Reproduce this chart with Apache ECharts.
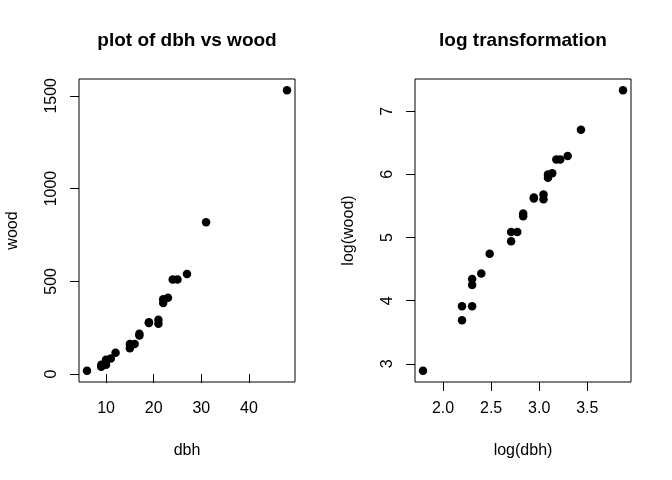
<!DOCTYPE html>
<html>
<head>
<meta charset="utf-8">
<script src="https://cdn.jsdelivr.net/npm/echarts@6/dist/echarts.min.js"></script>
<style>
html,body{margin:0;padding:0;background:#fff;}
#c{width:672px;height:480px;}
</style>
</head>
<body>
<div id="c"></div>
<script>
const dbh  = [6, 9, 9, 10, 10, 10, 11, 12, 15, 15, 16, 17, 17, 19, 19, 21, 21, 22, 22, 23, 24, 25, 27, 31, 48];
const wood = [18, 40, 50, 50, 70, 77, 84, 115, 140, 162, 162, 208, 217, 275, 280, 272, 293, 383, 403, 411, 510, 510, 539, 819, 1530];
const xTicksLeft = [10, 20, 30, 40];
const yTicksLeft = [0, 500, 1000, 1500];
const xTicksRight = [2.0, 2.5, 3.0, 3.5];
const yTicksRight = [3, 4, 5, 6, 7];
const titles = ['plot of dbh vs wood', 'log transformation'];
const xNames = ['dbh', 'log(dbh)'];
const yNames = ['wood', 'log(wood)'];

const rawPts = dbh.map((d, i) => [d, wood[i]]);
const logPts = dbh.map((d, i) => [Math.log(d), Math.log(wood[i])]);

const FONT = '"Liberation Sans", Arial, Helvetica, sans-serif';
const pad = v => v.min - 0.04 * (v.max - v.min);
const padMax = v => v.max + 0.04 * (v.max - v.min);

function xAxis(idx, ticks, name, fmt) {
  return {
    type: 'value', gridIndex: idx, min: pad, max: padMax,
    name: name, nameLocation: 'middle', nameGap: 61,
    nameTextStyle: {fontFamily: FONT, fontSize: 16, color: '#000'},
    axisLine: {show: false},
    splitLine: {show: false},
    axisTick: {show: true, inside: false, length: 9, customValues: ticks, lineStyle: {color: '#000'}},
    axisLabel: {customValues: ticks, margin: 19, fontFamily: FONT, fontSize: 16, color: '#000',
      formatter: fmt, showMinLabel: true, showMaxLabel: true}
  };
}
function yAxis(idx, ticks, name) {
  return {
    type: 'value', gridIndex: idx, min: pad, max: padMax,
    name: name, nameLocation: 'middle', nameGap: 58, nameRotate: 90,
    nameTextStyle: {fontFamily: FONT, fontSize: 16, color: '#000'},
    axisLine: {show: false},
    splitLine: {show: false},
    axisTick: {show: true, inside: false, length: 9, customValues: ticks, lineStyle: {color: '#000'}},
    axisLabel: {customValues: ticks, margin: 19, rotate: 90, fontFamily: FONT, fontSize: 16, color: '#000',
      formatter: v => String(v), showMinLabel: true, showMaxLabel: true}
  };
}

const chart = echarts.init(document.getElementById('c'), null, {renderer: 'canvas'});
chart.setOption({
  animation: false,
  backgroundColor: '#fff',
  title: [
    {text: titles[0], left: 187, top: 31, textAlign: 'center', padding: 0,
     textStyle: {fontFamily: FONT, fontSize: 19, fontWeight: 'bold', color: '#000'}},
    {text: titles[1], left: 523, top: 31, textAlign: 'center', padding: 0,
     textStyle: {fontFamily: FONT, fontSize: 19, fontWeight: 'bold', color: '#000'}}
  ],
  grid: [
    {left: 79, top: 79, width: 216, height: 303, show: true, borderColor: '#000', borderWidth: 1, containLabel: false},
    {left: 415, top: 79, width: 216, height: 303, show: true, borderColor: '#000', borderWidth: 1, containLabel: false}
  ],
  xAxis: [
    xAxis(0, xTicksLeft, xNames[0], v => String(v)),
    xAxis(1, xTicksRight, xNames[1], v => Number(v).toFixed(1))
  ],
  yAxis: [
    yAxis(0, yTicksLeft, yNames[0]),
    yAxis(1, yTicksRight, yNames[1])
  ],
  series: [
    {type: 'scatter', xAxisIndex: 0, yAxisIndex: 0, data: rawPts, symbol: 'circle', symbolSize: 8.5,
     itemStyle: {color: '#000', opacity: 1}},
    {type: 'scatter', xAxisIndex: 1, yAxisIndex: 1, data: logPts, symbol: 'circle', symbolSize: 8.5,
     itemStyle: {color: '#000', opacity: 1}}
  ]
});
</script>
</body>
</html>
